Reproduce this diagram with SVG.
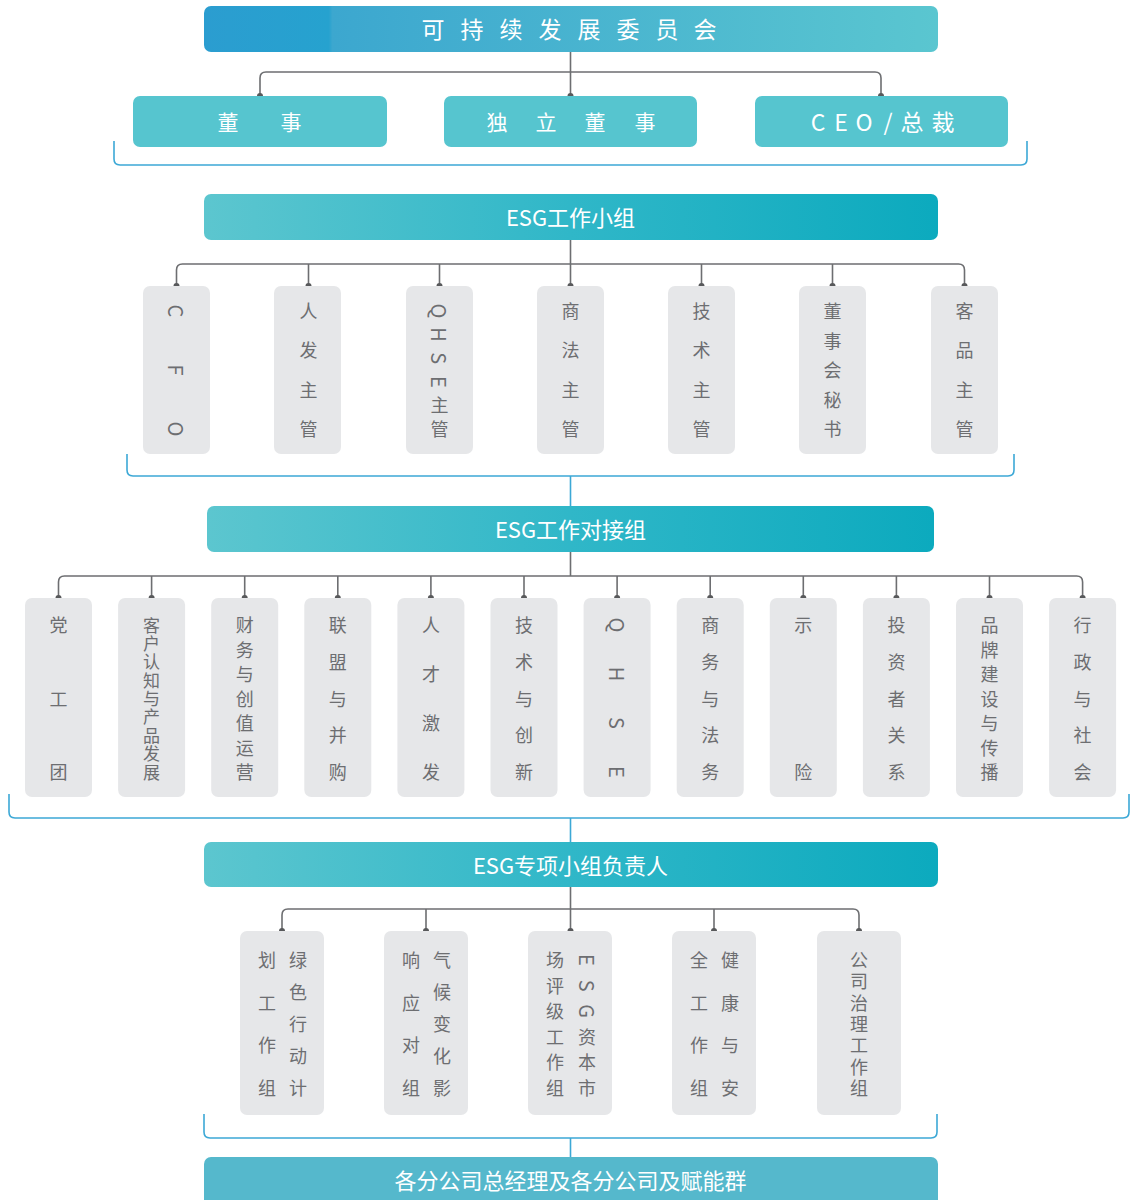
<svg xmlns="http://www.w3.org/2000/svg" width="1131" height="1200" viewBox="0 0 1131 1200">
<defs>
<linearGradient id="gTop" x1="0" y1="0" x2="1" y2="0">
<stop offset="0" stop-color="#2b9dd0"/>
<stop offset="0.17" stop-color="#26a2cf"/>
<stop offset="0.175" stop-color="#3ca7cf"/>
<stop offset="1" stop-color="#5ac6d0"/>
</linearGradient>
<linearGradient id="gEsg" x1="0" y1="0" x2="1" y2="0">
<stop offset="0" stop-color="#5cc6cf"/>
<stop offset="0.5" stop-color="#30b7c8"/>
<stop offset="1" stop-color="#0caabe"/>
</linearGradient>
<style>
.ban{font-family:"Noto Sans CJK SC","Noto Sans",sans-serif;fill:#fff;text-anchor:middle;dominant-baseline:central}
.t1{font-size:23px}
.t2{font-size:21px}
.t2l{font-size:23px}
.t3{font-size:22px;font-weight:400}
.box{fill:#e6e7e9}
.tbox{fill:#56c5cf}
.v{font-family:"Noto Sans CJK SC","Noto Sans",sans-serif;font-size:18px;fill:#6d6e71;text-anchor:middle;dominant-baseline:central}
.vs{font-size:17px}
.lat{font-size:20px}
.con{fill:none;stroke:#6d6e71;stroke-width:1.6}
.dot{fill:#58595b}
.br{fill:none;stroke:#3ca8d6;stroke-width:1.6}
</style>
</defs>

<g id="connectors">
<path class="con" d="M570.5,51 V96 M260,96 V78 Q260,72 266,72 H875 Q881,72 881,78 V96"/>
<circle class="dot" cx="260" cy="96" r="3"/><circle class="dot" cx="570.5" cy="96" r="3"/><circle class="dot" cx="881" cy="96" r="3"/>

<path class="con" d="M570.5,240 V286 M176.5,286 V270 Q176.5,264 182.5,264 H958.5 Q964.5,264 964.5,270 V286 M308.5,264 V286 M439.5,264 V286 M701.5,264 V286 M832.5,264 V286"/>
<circle class="dot" cx="176.5" cy="286" r="3"/><circle class="dot" cx="308.5" cy="286" r="3"/><circle class="dot" cx="439.5" cy="286" r="3"/><circle class="dot" cx="570.5" cy="286" r="3"/><circle class="dot" cx="701.5" cy="286" r="3"/><circle class="dot" cx="832.5" cy="286" r="3"/><circle class="dot" cx="964.5" cy="286" r="3"/>

<path class="con" d="M570.5,552 V576 M58.5,598 V582 Q58.5,576 64.5,576 H1076.6 Q1082.6,576 1082.6,582 V598 M151.6,576 V598 M244.7,576 V598 M337.8,576 V598 M430.9,576 V598 M524,576 V598 M617.1,576 V598 M710.2,576 V598 M803.3,576 V598 M896.4,576 V598 M989.5,576 V598"/>
<circle class="dot" cx="58.5" cy="598" r="3"/><circle class="dot" cx="151.6" cy="598" r="3"/><circle class="dot" cx="244.7" cy="598" r="3"/><circle class="dot" cx="337.8" cy="598" r="3"/><circle class="dot" cx="430.9" cy="598" r="3"/><circle class="dot" cx="524" cy="598" r="3"/><circle class="dot" cx="617.1" cy="598" r="3"/><circle class="dot" cx="710.2" cy="598" r="3"/><circle class="dot" cx="803.3" cy="598" r="3"/><circle class="dot" cx="896.4" cy="598" r="3"/><circle class="dot" cx="989.5" cy="598" r="3"/><circle class="dot" cx="1082.6" cy="598" r="3"/>

<path class="con" d="M570.5,887 V931 M282,931 V915 Q282,909 288,909 H853 Q859,909 859,915 V931 M426,909 V931 M714,909 V931"/>
<circle class="dot" cx="282" cy="931" r="3"/><circle class="dot" cx="426" cy="931" r="3"/><circle class="dot" cx="570.5" cy="931" r="3"/><circle class="dot" cx="714" cy="931" r="3"/><circle class="dot" cx="859" cy="931" r="3"/>

<path class="br" d="M114,141 V159 Q114,165 120,165 H1021 Q1027,165 1027,159 V141"/>
<path class="br" d="M127,454 V470 Q127,476 133,476 H1008 Q1014,476 1014,470 V454 M570.5,476 V506"/>
<path class="br" d="M9,794 V812 Q9,818 15,818 H1123 Q1129,818 1129,812 V794 M570.5,818 V842"/>
<path class="br" d="M204,1114 V1132 Q204,1138 210,1138 H931 Q937,1138 937,1132 V1114 M570.5,1138 V1157"/>
</g>

<g id="committee">
<rect x="204" y="6" width="734" height="46" rx="7" fill="url(#gTop)"/>
<text class="ban t1" x="433 472 511 550 589 628 667 705" y="27.5">可持续发展委员会</text>
</g>

<g id="director"><rect class="tbox" x="133" y="96" width="254" height="51" rx="7"/><text class="ban t2" x="228 291" y="120.5">董事</text></g>
<g id="indep-director"><rect class="tbox" x="444" y="96" width="253" height="51" rx="7"/><text class="ban t2" x="497 546 595 645" y="120.5">独立董事</text></g>
<g id="ceo"><rect class="tbox" x="755" y="96" width="253" height="51" rx="7"/><text class="ban t2l" x="818 841 864 888 912 943" y="120.5">CEO/总裁</text></g>

<g id="esg-group"><rect x="204" y="194" width="734" height="46" rx="7" fill="url(#gEsg)"/><text class="ban t3" x="570.5" y="215.5">ESG工作小组</text></g>

<g id="n-cfo"><rect class="box" x="143" y="286" width="67" height="168" rx="7"/>
<text class="v lat" x="176.5" y="311" transform="rotate(90 176.5 311)">C</text>
<text class="v lat" x="176.5" y="370" transform="rotate(90 176.5 370)">F</text>
<text class="v lat" x="176.5" y="429" transform="rotate(90 176.5 429)">O</text></g>
<g id="n-hr"><rect class="box" x="274" y="286" width="67" height="168" rx="7"/><text class="v" x="308.5 308.5 308.5 308.5" y="310 349.3 388.7 428">人发主管</text></g>
<g id="n-qhse"><rect class="box" x="406" y="286" width="67" height="168" rx="7"/>
<text class="v lat" x="439.5" y="311" transform="rotate(90 439.5 311)">Q</text>
<text class="v lat" x="439.5" y="334.6" transform="rotate(90 439.5 334.6)">H</text>
<text class="v lat" x="439.5" y="358.2" transform="rotate(90 439.5 358.2)">S</text>
<text class="v lat" x="439.5" y="381.8" transform="rotate(90 439.5 381.8)">E</text>
<text class="v" x="439.5 439.5" y="404.4 428">主管</text></g>
<g id="n-legal"><rect class="box" x="537" y="286" width="67" height="168" rx="7"/><text class="v" x="570.5 570.5 570.5 570.5" y="310 349.3 388.7 428">商法主管</text></g>
<g id="n-tech"><rect class="box" x="668" y="286" width="67" height="168" rx="7"/><text class="v" x="701.5 701.5 701.5 701.5" y="310 349.3 388.7 428">技术主管</text></g>
<g id="n-secretary"><rect class="box" x="799" y="286" width="67" height="168" rx="7"/><text class="v" x="832.5 832.5 832.5 832.5 832.5" y="310 339.5 369 398.5 428">董事会秘书</text></g>
<g id="n-product"><rect class="box" x="931" y="286" width="67" height="168" rx="7"/><text class="v" x="964.5 964.5 964.5 964.5" y="310 349.3 388.7 428">客品主管</text></g>

<g id="esg-liaison"><rect x="207" y="506" width="727" height="46" rx="7" fill="url(#gEsg)"/><text class="ban t3" x="570.5" y="527.5">ESG工作对接组</text></g>

<g id="m-party"><rect class="box" x="25" y="598" width="67" height="199" rx="7"/><text class="v" x="58.5 58.5 58.5" y="624 697.5 771">党工团</text></g>
<g id="m-customer"><rect class="box" x="118.1" y="598" width="67" height="199" rx="7"/><text class="v vs" x="151.6 151.6 151.6 151.6 151.6 151.6 151.6 151.6 151.6" y="624 642.4 660.8 679.1 697.5 715.9 734.3 752.6 771">客户认知与产品发展</text></g>
<g id="m-finance"><rect class="box" x="211.2" y="598" width="67" height="199" rx="7"/><text class="v" x="244.7 244.7 244.7 244.7 244.7 244.7 244.7" y="624 648.5 673 697.5 722 746.5 771">财务与创值运营</text></g>
<g id="m-ma"><rect class="box" x="304.3" y="598" width="67" height="199" rx="7"/><text class="v" x="337.8 337.8 337.8 337.8 337.8" y="624 660.75 697.5 734.25 771">联盟与并购</text></g>
<g id="m-talent"><rect class="box" x="397.4" y="598" width="67" height="199" rx="7"/><text class="v" x="430.9 430.9 430.9 430.9" y="624 673 722 771">人才激发</text></g>
<g id="m-tech"><rect class="box" x="490.5" y="598" width="67" height="199" rx="7"/><text class="v" x="524 524 524 524 524" y="624 660.75 697.5 734.25 771">技术与创新</text></g>
<g id="m-qhse"><rect class="box" x="583.6" y="598" width="67" height="199" rx="7"/>
<text class="v lat" x="617.1" y="625" transform="rotate(90 617.1 625)">Q</text>
<text class="v lat" x="617.1" y="674" transform="rotate(90 617.1 674)">H</text>
<text class="v lat" x="617.1" y="723" transform="rotate(90 617.1 723)">S</text>
<text class="v lat" x="617.1" y="772" transform="rotate(90 617.1 772)">E</text></g>
<g id="m-business"><rect class="box" x="676.7" y="598" width="67" height="199" rx="7"/><text class="v" x="710.2 710.2 710.2 710.2 710.2" y="624 660.75 697.5 734.25 771">商务与法务</text></g>
<g id="m-risk"><rect class="box" x="769.8" y="598" width="67" height="199" rx="7"/><text class="v" x="803.3 803.3" y="624 771">示险</text></g>
<g id="m-investor"><rect class="box" x="862.9" y="598" width="67" height="199" rx="7"/><text class="v" x="896.4 896.4 896.4 896.4 896.4" y="624 660.75 697.5 734.25 771">投资者关系</text></g>
<g id="m-brand"><rect class="box" x="956" y="598" width="67" height="199" rx="7"/><text class="v" x="989.5 989.5 989.5 989.5 989.5 989.5 989.5" y="624 648.5 673 697.5 722 746.5 771">品牌建设与传播</text></g>
<g id="m-admin"><rect class="box" x="1049.1" y="598" width="67" height="199" rx="7"/><text class="v" x="1082.6 1082.6 1082.6 1082.6 1082.6" y="624 660.75 697.5 734.25 771">行政与社会</text></g>

<g id="esg-leads"><rect x="204" y="842" width="734" height="45" rx="7" fill="url(#gEsg)"/><text class="ban t3" x="570.5" y="863.5">ESG专项小组负责人</text></g>

<g id="s-green"><rect class="box" x="240" y="931" width="84" height="184" rx="7"/>
<text class="v" x="298 298 298 298 298" y="959 991 1023 1055 1087">绿色行动计</text>
<text class="v" x="267 267 267 267" y="959 1001.7 1044.3 1087">划工作组</text></g>
<g id="s-climate"><rect class="box" x="384" y="931" width="84" height="184" rx="7"/>
<text class="v" x="442 442 442 442 442" y="959 991 1023 1055 1087">气候变化影</text>
<text class="v" x="411 411 411 411" y="959 1001.7 1044.3 1087">响应对组</text></g>
<g id="s-rating"><rect class="box" x="528" y="931" width="84" height="184" rx="7"/>
<text class="v lat" x="587" y="960" transform="rotate(90 587 960)">E</text>
<text class="v lat" x="587" y="985.6" transform="rotate(90 587 985.6)">S</text>
<text class="v lat" x="587" y="1011.2" transform="rotate(90 587 1011.2)">G</text>
<text class="v" x="587 587 587" y="1035.8 1061.4 1087">资本市</text>
<text class="v" x="555 555 555 555 555 555" y="959 984.6 1010.2 1035.8 1061.4 1087">场评级工作组</text></g>
<g id="s-safety"><rect class="box" x="672" y="931" width="84" height="184" rx="7"/>
<text class="v" x="730 730 730 730" y="959 1001.7 1044.3 1087">健康与安</text>
<text class="v" x="699 699 699 699" y="959 1001.7 1044.3 1087">全工作组</text></g>
<g id="s-governance"><rect class="box" x="817" y="931" width="84" height="184" rx="7"/>
<text class="v" x="859 859 859 859 859 859 859" y="959 980.3 1001.7 1023 1044.3 1065.7 1087">公司治理工作组</text></g>

<g id="branches"><rect x="204" y="1157" width="734" height="55" rx="7" fill="#55b8cc"/><text class="ban t3" x="570.5" y="1178.5">各分公司总经理及各分公司及赋能群</text></g>
</svg>
